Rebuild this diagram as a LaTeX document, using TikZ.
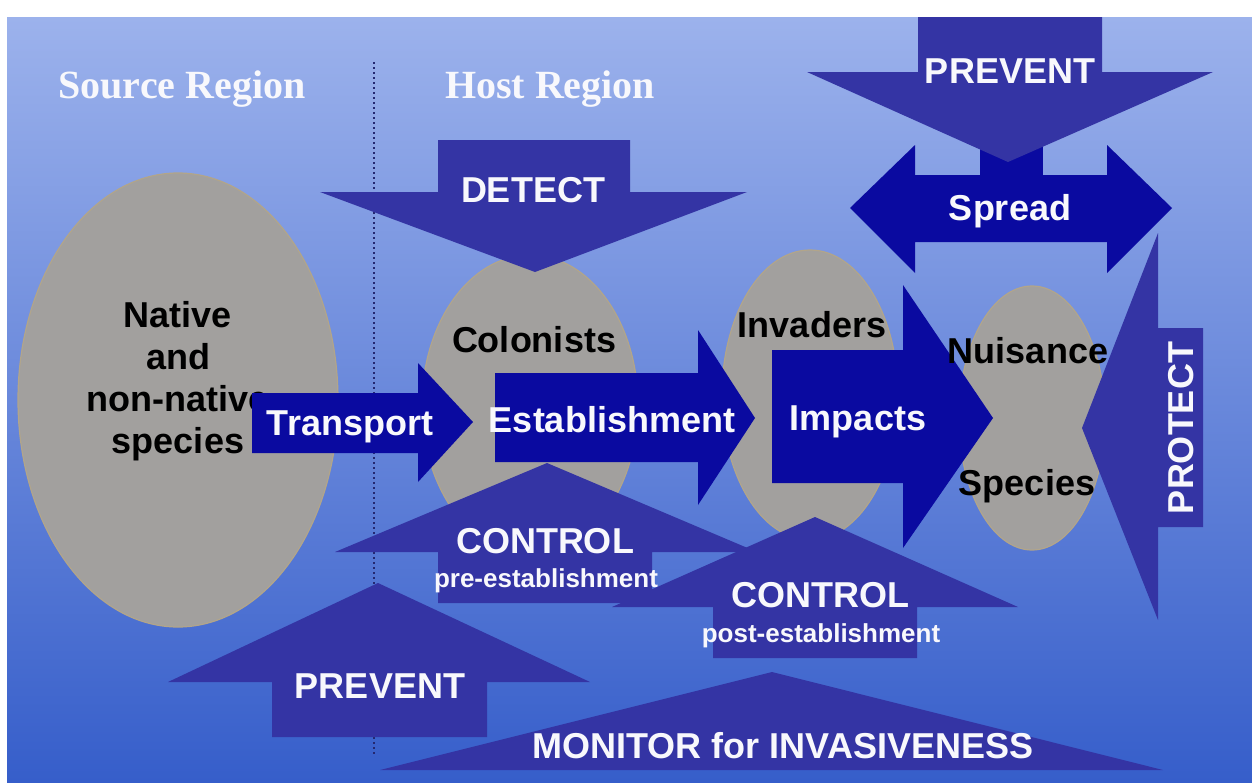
\documentclass[tikz,border=0pt]{standalone}
\usepackage{fontspec}
\setmainfont{Liberation Sans}
\newfontfamily\regionfont{Liberation Serif}
\usetikzlibrary{shapes.geometric}
\definecolor{navyc}{RGB}{10,10,160}
\definecolor{slatec}{RGB}{52,52,164}
\definecolor{blobc}{RGB}{162,160,158}
\definecolor{blobedge}{RGB}{178,165,138}
\definecolor{bgtop}{RGB}{156,178,236}
\definecolor{bgmid}{RGB}{92,138,228}
\definecolor{bgbot}{RGB}{54,94,202}
\definecolor{linec}{RGB}{36,40,112}
\definecolor{textw}{RGB}{248,248,252}
\tikzset{
  navyarrow/.style={fill=navyc},
  slatearrow/.style={fill=slatec},
  blob/.style={ellipse, fill=blobc, draw=blobedge, line width=1.2pt, inner sep=0pt},
  wtext/.style={text=textw, font=\fontsize{36}{42}\selectfont\bfseries, inner sep=0pt, anchor=base},
  ktext/.style={text=black, font=\fontsize{36}{42}\selectfont\bfseries, inner sep=0pt, anchor=base},
  wsmall/.style={text=textw, font=\fontsize{26}{30}\selectfont\bfseries, inner sep=0pt, anchor=base},
  regiontext/.style={text=textw, font=\fontsize{40}{46}\selectfont\regionfont\bfseries, inner sep=0pt, anchor=base},
  divider/.style={draw=linec, line width=2pt, dash pattern=on 2pt off 3pt},
}
\begin{document}
\begin{tikzpicture}[x=1pt,y=-1pt]
\useasboundingbox (0,0) rectangle (1252,782);
\fill[white] (0,0) rectangle (1252,782);
\shade[top color=bgtop, middle color=bgmid, bottom color=bgbot] (7,17) rectangle (1252,782);

% region divider
\coordinate (divtop) at (374,62);
\coordinate (divbot) at (374,755);
\draw[divider] (divtop) -- (divbot);

\node[regiontext] (srcreg) at (182,98) {Source Region};
\node[regiontext] (hostreg) at (550,98) {Host Region};

% species pools
\node[blob, minimum width=320pt, minimum height=454pt] (src) at (178,400) {};
\node[blob, minimum width=216pt, minimum height=300pt] (colon) at (530,405) {};
\node[blob, minimum width=176pt, minimum height=290pt] (invad) at (810,395) {};
\node[blob, minimum width=146pt, minimum height=264pt] (nuis) at (1032,418) {};

\node[ktext, anchor=center, align=center] (srctext) at (178,381) {Native\\and\\non-native\\species};
\node[ktext] (colontext) at (534,352) {Colonists};
\node[ktext] (invadtext) at (812,337) {Invaders};

% process arrows
\fill[navyarrow] (252,393) -- (418,393) -- (418,363) -- (473,422) -- (418,482) -- (418,453) -- (252,453) -- cycle;
\node[wtext] (transport) at (350,435) {Transport};
\fill[navyarrow] (495,373) -- (698,373) -- (698,330) -- (755,418) -- (698,505) -- (698,462) -- (495,462) -- cycle;
\node[wtext] (establish) at (612,432) {Establishment};
\fill[navyarrow] (772,350) -- (903,350) -- (903,285) -- (993,418) -- (903,548) -- (903,483) -- (772,483) -- cycle;
\node[wtext] (impacts) at (858,430) {Impacts};

\node[ktext] (nuistext) at (1028,363) {Nuisance};
\node[ktext] (spectext) at (1027,495) {Species};

% spread
\fill[navyarrow] (980,140) rectangle (1043,178);
\fill[navyarrow] (850,208) -- (915,145) -- (915,175) -- (1107,175) -- (1107,145) -- (1172,208) -- (1107,273) -- (1107,242) -- (915,242) -- (915,273) -- cycle;
\node[wtext] (spread) at (1010,220) {Spread};

% management arrows
\fill[slatearrow] (918,17) -- (1102,17) -- (1102,72) -- (1213,72) -- (1008,162) -- (807,72) -- (918,72) -- cycle;
\node[wtext] (preventtop) at (1010,83) {PREVENT};

\fill[slatearrow] (438,140) -- (630,140) -- (630,192) -- (747,192) -- (535,272) -- (320,192) -- (438,192) -- cycle;
\node[wtext] (detect) at (533,202) {DETECT};

\fill[slatearrow] (438,603) -- (438,552) -- (335,552) -- (547,463) -- (757,552) -- (652,552) -- (652,603) -- cycle;
\node[wtext] (controlpre) at (545,553) {CONTROL};
\node[wsmall] (pretext) at (546,587) {pre-establishment};

\fill[slatearrow] (713,658) -- (713,607) -- (612,607) -- (815,517) -- (1018,607) -- (917,607) -- (917,658) -- cycle;
\node[wtext] (controlpost) at (820,607) {CONTROL};
\node[wsmall] (posttext) at (821,642) {post-establishment};

\fill[slatearrow] (272,737) -- (272,682) -- (168,682) -- (378,583) -- (590,682) -- (487,682) -- (487,737) -- cycle;
\node[wtext] (preventbot) at (380,698) {PREVENT};

\fill[slatearrow] (380,770) -- (772,672) -- (1163,770) -- cycle;
\node[wtext] (monitor) at (783,758) {MONITOR for INVASIVENESS};

\fill[slatearrow] (1203,328) -- (1158,328) -- (1158,233) -- (1082,428) -- (1158,620) -- (1158,527) -- (1203,527) -- cycle;
\node[wtext, anchor=center, rotate=90] (protect) at (1181,428) {PROTECT};
\end{tikzpicture}
\end{document}
